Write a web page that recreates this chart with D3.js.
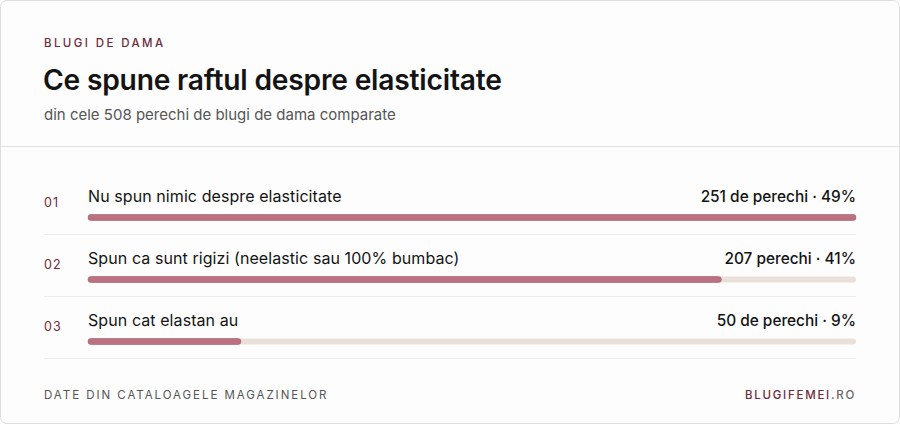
<!DOCTYPE html>
<html>
<head>
<meta charset="utf-8">
<script src="https://cdn.jsdelivr.net/npm/d3@7"></script>
<style>
  html, body { margin: 0; padding: 0; background: #ffffff; }
  svg { display: block; font-family: Inter, "Noto Sans", sans-serif; }
</style>
</head>
<body>
<svg id="chart" width="900" height="425"></svg>
<script>
// data
var categories = [
    "Nu spun nimic despre elasticitate",
    "Spun ca sunt rigizi (neelastic sau 100% bumbac)",
    "Spun cat elastan au"
];
var counts = [251, 207, 50];
var percents = [49, 41, 9];
var countLabels = ["251 de perechi", "207 perechi", "50 de perechi"];

var W = 900, H = 425;
var left = 88, right = 856, rowTop = 172, rowH = 62;

var svg = d3.select('#chart');

// card
svg.append('rect')
    .attr('x', 0.5).attr('y', 0.5)
    .attr('width', W - 1).attr('height', H - 2)
    .attr('rx', 6)
    .attr('fill', '#fdfdfd')
    .attr('stroke', '#dedede');

// header
svg.append('text')
    .attr('x', 44).attr('y', 47)
    .attr('font-size', 11.5).attr('font-weight', 500)
    .attr('letter-spacing', 2.4)
    .attr('fill', '#6e2a3c')
    .text('BLUGI DE DAMA');

svg.append('text')
    .attr('x', 43).attr('y', 90)
    .attr('font-size', 28.2).attr('font-weight', 600)
    .attr('letter-spacing', -0.2)
    .attr('fill', '#141414')
    .text('Ce spune raftul despre elasticitate');

svg.append('text')
    .attr('x', 44).attr('y', 120)
    .attr('font-size', 15)
    .attr('fill', '#555')
    .text('din cele 508 perechi de blugi de dama comparate');

svg.append('line')
    .attr('x1', 1).attr('x2', W - 1)
    .attr('y1', 146.5).attr('y2', 146.5)
    .attr('stroke', '#e2e2e2');

var x = d3.scaleLinear()
    .domain([0, d3.max(counts)])
    .range([left, right]);

var rows = svg.selectAll('g.row')
    .data(categories)
    .enter()
    .append('g')
    .attr('class', 'row')
    .attr('transform', function(d, i) { return 'translate(0,' + (rowTop + i * rowH) + ')'; });

rows.append('text')
    .attr('x', 44).attr('y', 35)
    .attr('font-size', 12.5).attr('letter-spacing', 1.2)
    .attr('fill', '#6e2a3c')
    .text(function(d, i) { return d3.format('02d')(i + 1); });

rows.append('text')
    .attr('x', left).attr('y', 30)
    .attr('font-size', 16).attr('letter-spacing', 0.08)
    .attr('fill', '#141414')
    .text(function(d) { return d; });

rows.append('text')
    .attr('x', right).attr('y', 30)
    .attr('text-anchor', 'end')
    .attr('font-size', 15.4).attr('font-weight', 500)
    .attr('fill', '#141414')
    .text(function(d, i) { return countLabels[i] + ' \u00b7 ' + percents[i] + '%'; });

// track
rows.append('rect')
    .attr('x', left).attr('y', 42.5)
    .attr('width', right - left).attr('height', 6)
    .attr('rx', 3)
    .attr('fill', '#e9e1d9');

// bar
rows.append('rect')
    .attr('x', left).attr('y', 42.5)
    .attr('width', function(d, i) { return x(counts[i]) - left; })
    .attr('height', 6)
    .attr('rx', 3)
    .attr('fill', '#bb717f')
    .attr('stroke', '#a85e6c')
    .attr('stroke-width', 0.6);

rows.append('line')
    .attr('x1', 44).attr('x2', right)
    .attr('y1', 62.5).attr('y2', 62.5)
    .attr('stroke', '#ececec');

// footer
svg.append('text')
    .attr('x', 44).attr('y', 399)
    .attr('font-size', 11.5).attr('letter-spacing', 1.95)
    .attr('fill', '#555')
    .text('DATE DIN CATALOAGELE MAGAZINELOR');

var brand = svg.append('text')
    .attr('x', right).attr('y', 399)
    .attr('text-anchor', 'end')
    .attr('font-size', 11.5).attr('letter-spacing', 1.75)
    .attr('font-weight', 500);
brand.append('tspan').attr('fill', '#6e2a3c').text('BLUGIFEMEI');
brand.append('tspan').attr('fill', '#666').text('.RO');
</script>
</body>
</html>
